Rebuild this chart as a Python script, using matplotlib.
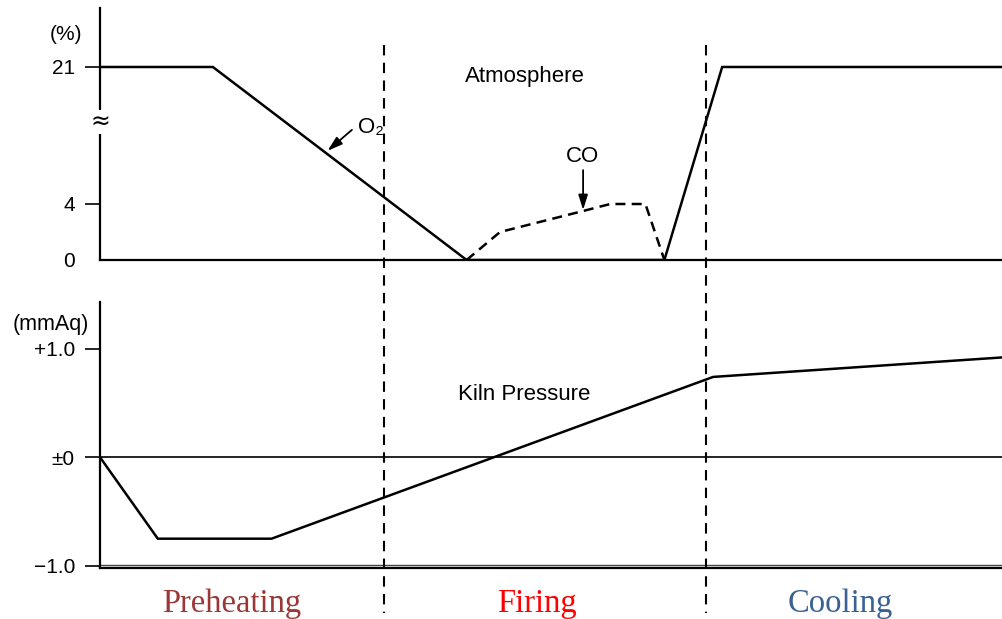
import numpy as np
import matplotlib
matplotlib.use("Agg")
import matplotlib.pyplot as plt
from matplotlib.lines import Line2D
from matplotlib.transforms import blended_transform_factory

# Process time axis (percent of the firing cycle)
phase_bounds = [31.5, 67.1]
phase_names = ["Preheating", "Firing", "Cooling"]
phase_centers = [14.6, 48.4, 82.0]
phase_colors = ["#9a3838", "#ff0000", "#3a6194"]

# Atmosphere composition (%)
o2_t = [0.0, 12.5, 40.6, 62.5, 68.9, 100.0]
o2_v = [21.0, 21.0, 0.0, 0.0, 21.0, 21.0]
co_t = [40.6, 44.3, 53.5, 56.5, 60.4, 62.5]
co_v = [0.0, 2.0, 3.5, 4.0, 4.0, 0.0]
atm_ticks = [0, 4, 21]
atm_labels = ["0", "4", "21"]

# Kiln pressure (mmAq)
kp_t = [0.0, 6.4, 19.0, 67.9, 100.0]
kp_v = [0.0, -0.75, -0.75, 0.74, 0.92]
kp_ticks = [-1.0, 0.0, 1.0]
kp_labels = ["\u22121.0", "\u00b10", "+1.0"]

W, H = 1003, 619
fig = plt.figure(figsize=(W / 100, H / 100), dpi=100)
sans = "Liberation Sans"
serif = "Liberation Serif"


def px_axes(x0, y_top, x1, y_bot):
    return fig.add_axes([x0 / W, 1 - y_bot / H, (x1 - x0) / W, (y_bot - y_top) / H])


# Broken scale: 0-4 % drawn at full scale, 4-21 % compressed
BRK = 4.0
COMP = 9.786 / 17.0


def fwd(v):
    v = np.asarray(v, dtype=float)
    return np.where(v <= BRK, v, BRK + (v - BRK) * COMP)


def inv(s):
    s = np.asarray(s, dtype=float)
    return np.where(s <= BRK, s, BRK + (s - BRK) / COMP)


ax1 = px_axes(100, 8, 1003, 260)
ax1.set_yscale("function", functions=(fwd, inv))
ax1.set_xlim(0, 100)
ax1.set_ylim(0, float(inv(18.0)))

ax2 = px_axes(100, 302, 1003, 568)
ax2.set_xlim(0, 100)
ax2.set_ylim(-1.02, 1.43)

for ax in (ax1, ax2):
    for s in ("top", "right"):
        ax.spines[s].set_visible(False)
    ax.spines["left"].set_linewidth(1.6)
    ax.spines["bottom"].set_linewidth(1.6)
    ax.set_xticks([])
    ax.tick_params(axis="y", direction="out", length=11, width=1.2, pad=7)

ax1.set_yticks(atm_ticks, atm_labels, fontfamily=sans, fontsize=15)
ax1.yaxis.get_major_ticks()[0].tick1line.set_visible(False)
ax2.set_yticks(kp_ticks, kp_labels, fontfamily=sans, fontsize=15)

arrow_style = dict(arrowstyle="-|>,head_length=0.9,head_width=0.28",
                   color="black", lw=1.3, shrinkA=0, shrinkB=0)

# Atmosphere panel
ax1.plot(o2_t, o2_v, color="black", lw=1.8, solid_joinstyle="miter")
ax1.plot(co_t, co_v, color="black", lw=1.8, ls=(0, (4, 2.5)))
ax1.text(-0.02, 0.893, "(%)", transform=ax1.transAxes, ha="right",
         va="center", fontsize=15, fontfamily=sans)
ax1.text(47.1, 19.76, "Atmosphere", ha="center", va="center",
         fontsize=16, fontfamily=sans)
ax1.annotate("", xy=(25.2, 10.6), xytext=(27.9, 13.2), arrowprops=arrow_style)
ax1.text(28.6, 13.55, "O\u2082", ha="left", va="center",
         fontsize=16, fontfamily=sans)
ax1.annotate("", xy=(53.5, 3.57), xytext=(53.5, 8.2), arrowprops=arrow_style)
ax1.text(53.4, 9.9, "CO", ha="center", va="center",
         fontsize=16, fontfamily=sans)
# axis break mark
ax1.text(0, 14.2, "\u2248", transform=ax1.get_yaxis_transform(),
         ha="center", va="center", fontsize=17, fontfamily="DejaVu Sans",
         bbox=dict(boxstyle="square,pad=0.0", fc="white", ec="none"),
         clip_on=False)

# Kiln pressure panel
ax2.axhline(0.0, color="black", lw=1.2)
ax2.axhline(-0.992, color="#444444", lw=1.0)
ax2.plot(kp_t, kp_v, color="black", lw=1.8)
ax2.text(-0.012, 0.914, "(mmAq)", transform=ax2.transAxes, ha="right",
         va="center", fontsize=15.5, fontfamily=sans)
ax2.text(47.0, 0.58, "Kiln Pressure", ha="center", va="center",
         fontsize=16, fontfamily=sans)

# Phase boundaries spanning both panels
tr = blended_transform_factory(ax1.transData, fig.transFigure)
for xb in phase_bounds:
    fig.add_artist(Line2D([xb, xb], [1 - 45 / H, 1 - 613 / H], transform=tr,
                          color="black", lw=1.5, ls=(0, (5, 3.5))))

for name, xc, col in zip(phase_names, phase_centers, phase_colors):
    fig.text(xc, 1 - 604 / H, name, transform=tr, ha="center", va="center",
             fontsize=23.5, fontfamily=serif, color=col)

fig.savefig("out.png", dpi=100)
